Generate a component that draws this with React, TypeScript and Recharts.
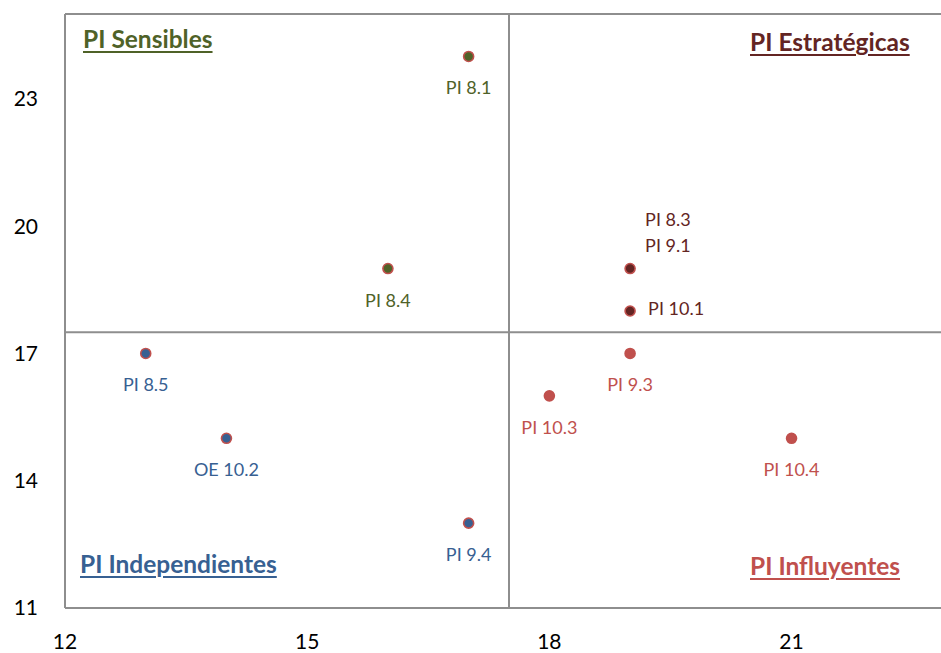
import React from 'react';
import { ScatterChart, Scatter, XAxis, YAxis, ReferenceLine } from 'recharts';

const xTicks = [12, 15, 18, 21];
const yTicks = [11, 14, 17, 20, 23];

const sensibles = [
  { x: 17, y: 24, label: 'PI 8.1', pos: 'below' },
  { x: 16, y: 19, label: 'PI 8.4', pos: 'below' },
];
const estrategicas = [
  { x: 19, y: 19, label: 'PI 8.3|PI 9.1', pos: 'stack' },
  { x: 19, y: 18, label: 'PI 10.1', pos: 'right' },
];
const independientes = [
  { x: 13, y: 17, label: 'PI 8.5', pos: 'below' },
  { x: 14, y: 15, label: 'OE 10.2', pos: 'below' },
  { x: 17, y: 13, label: 'PI 9.4', pos: 'below' },
];
const influyentes = [
  { x: 19, y: 17, label: 'PI 9.3', pos: 'below' },
  { x: 18, y: 16, label: 'PI 10.3', pos: 'below' },
  { x: 21, y: 15, label: 'PI 10.4', pos: 'below' },
];

const FONT = 'Lato, "Noto Sans", sans-serif';
const GRAY = '#8E8E8E';
const GREEN = '#4F6228';
const DARKRED = '#632523';
const BLUE = '#376092';
const RED = '#C0504D';

function makeShape(fill: string, stroke: string, textColor: string) {
  return (props: any) => {
    const { cx, cy, payload } = props;
    const pos = payload.pos;
    const lines: string[] = String(payload.label).split('|');
    let texts: React.ReactNode = null;
    if (pos === 'below') {
      texts = (
        <text x={cx} y={cy + 31} textAnchor="middle" dominantBaseline="central" fill={textColor} fontSize={18} fontFamily={FONT}>
          {lines[0]}
        </text>
      );
    } else if (pos === 'right') {
      texts = (
        <text x={cx + 18} y={cy - 3} textAnchor="start" dominantBaseline="central" fill={textColor} fontSize={18} fontFamily={FONT}>
          {lines[0]}
        </text>
      );
    } else {
      texts = (
        <g>
          <text x={cx + 15} y={cy - 50} textAnchor="start" dominantBaseline="central" fill={textColor} fontSize={18} fontFamily={FONT}>
            {lines[0]}
          </text>
          <text x={cx + 15} y={cy - 24} textAnchor="start" dominantBaseline="central" fill={textColor} fontSize={18} fontFamily={FONT}>
            {lines[1]}
          </text>
        </g>
      );
    }
    return (
      <g>
        <circle cx={cx} cy={cy} r={5} fill={fill} stroke={stroke} strokeWidth={1.6} />
        {texts}
      </g>
    );
  };
}

const titleBase: React.CSSProperties = {
  position: 'absolute',
  fontFamily: FONT,
  fontWeight: 700,
  fontSize: 24.5,
  textDecoration: 'underline',
  textDecorationThickness: '2px',
  textUnderlineOffset: '3px',
  lineHeight: '28px',
  whiteSpace: 'nowrap',
  transform: 'translateY(-50%)',
};

export default function App() {
  return (
    <div style={{ position: 'absolute', left: 0, top: 0, width: 941, height: 653, overflow: 'hidden', background: '#fff' }}>
      <ScatterChart width={1000} height={653} margin={{ top: 14, right: 47, left: 0, bottom: 0 }}>
        <XAxis
          type="number"
          dataKey="x"
          domain={[12, 23]}
          ticks={xTicks}
          allowDataOverflow
          height={45}
          axisLine={{ stroke: GRAY, strokeWidth: 2 }}
          tickLine={false}
          tickSize={0}
          tickMargin={26}
          tick={{ fill: '#000', fontSize: 21, fontFamily: FONT }}
        />
        <YAxis
          type="number"
          dataKey="y"
          domain={[11, 25]}
          ticks={yTicks}
          allowDataOverflow
          width={65}
          axisLine={{ stroke: GRAY, strokeWidth: 2 }}
          tickLine={false}
          tickSize={0}
          tickMargin={27}
          tick={{ fill: '#000', fontSize: 21, fontFamily: FONT }}
        />
        <ReferenceLine y={25} stroke={GRAY} strokeWidth={2} />
        <ReferenceLine x={23} stroke={GRAY} strokeWidth={2} />
        <ReferenceLine x={17.5} stroke={GRAY} strokeWidth={2} />
        <ReferenceLine y={17.5} stroke={GRAY} strokeWidth={2} />
        <Scatter data={sensibles} shape={makeShape(GREEN, RED, GREEN)} isAnimationActive={false} />
        <Scatter data={estrategicas} shape={makeShape(DARKRED, RED, DARKRED)} isAnimationActive={false} />
        <Scatter data={independientes} shape={makeShape(BLUE, RED, BLUE)} isAnimationActive={false} />
        <Scatter data={influyentes} shape={makeShape(RED, RED, RED)} isAnimationActive={false} />
      </ScatterChart>
      <div style={{ ...titleBase, left: 83, top: 39, color: GREEN }}>PI Sensibles</div>
      <div style={{ ...titleBase, left: 750, top: 42, color: DARKRED }}>PI Estratégicas</div>
      <div style={{ ...titleBase, left: 80, top: 564, color: BLUE }}>PI Independientes</div>
      <div style={{ ...titleBase, left: 750, top: 566, color: RED }}>PI Influyentes</div>
    </div>
  );
}
